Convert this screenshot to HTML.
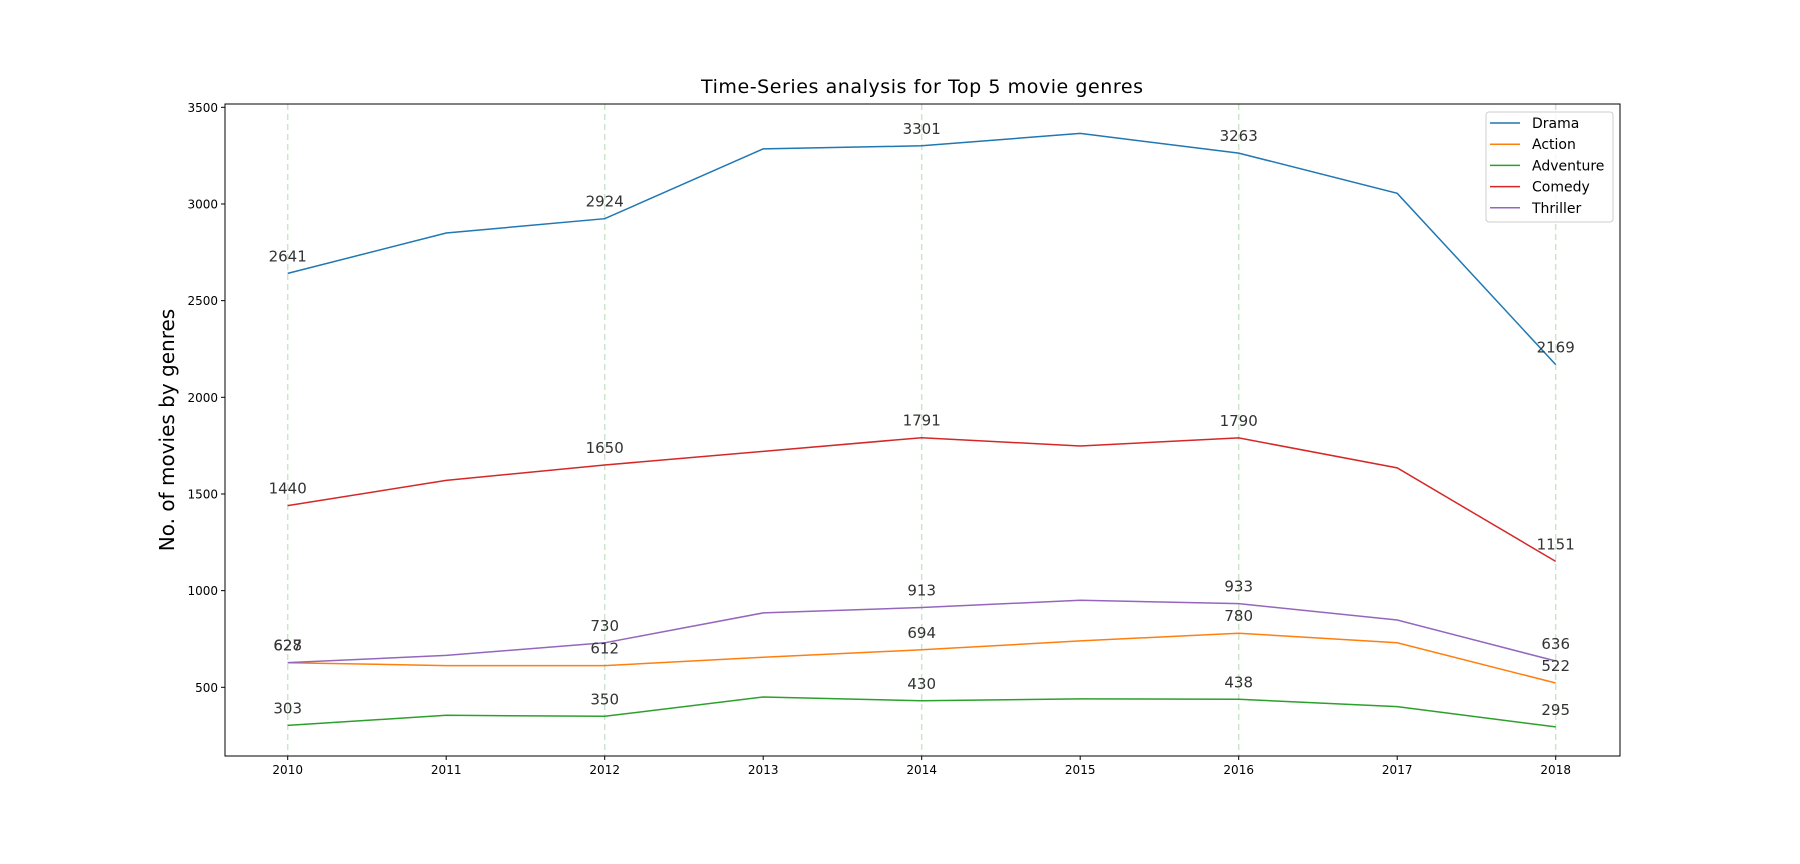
<!DOCTYPE html>
<html><head><meta charset="utf-8"><style>
body{margin:0;background:#fff;}
svg{display:block;font-family:"DejaVu Sans","Liberation Sans",sans-serif;}
</style></head><body>
<svg id="chart" width="1800" height="864" viewBox="0 0 1800 864" xmlns="http://www.w3.org/2000/svg">
<rect width="1800" height="864" fill="#fff"/>
<text x="922" y="93" text-anchor="middle" font-size="19" textLength="442" fill="#000">Time-Series analysis for Top 5 movie genres</text>
<text transform="translate(174,430) rotate(-90)" text-anchor="middle" font-size="20" fill="#000">No. of movies by genres</text>
<g id="grid"></g><g id="series"></g><g id="labels"></g><g id="axes"></g><g id="legend"></g>
</svg>
<script>
const years = [2010,2011,2012,2013,2014,2015,2016,2017,2018];
const genres = ["Drama","Action","Adventure","Comedy","Thriller"];
const colors = ["#1f77b4","#ff7f0e","#2ca02c","#d62728","#9467bd"];
const drama = [2641,2850,2924,3285,3301,3365,3263,3055,2169];
const action = [627,612,612,655,694,740,780,730,522];
const adventure = [303,355,350,450,430,440,438,400,295];
const comedy = [1440,1570,1650,1720,1791,1748,1790,1635,1151];
const thriller = [628,665,730,885,913,950,933,848,636];
const yTicks = [500,1000,1500,2000,2500,3000,3500];
const labelYears = [2010,2012,2014,2016,2018];

const series = [drama,action,adventure,comedy,thriller];
const NS = "http://www.w3.org/2000/svg";
const L=225,R=1620,T=104,B=756;
const xs = y => 287.7 + (y-2010)*158.5;
const ys = v => 687.3 - (v-500)*0.19333;
function mk(tag, attrs, parent, text){
  const e=document.createElementNS(NS,tag);
  for(const k in attrs) e.setAttribute(k,attrs[k]);
  if(text!==undefined) e.textContent=text;
  document.getElementById(parent).appendChild(e);
  return e;
}
labelYears.forEach(y=>{
  const g=mk("line",{x1:xs(y),x2:xs(y),y1:T,y2:B,stroke:"#2ca02c","stroke-opacity":"0.25","stroke-width":"1.5","stroke-dasharray":"6,4"},"grid");
  
  
});
series.forEach((s,i)=>{
  const pts=s.map((v,j)=>xs(years[j]).toFixed(1)+","+ys(v).toFixed(1)).join(" ");
  const p=mk("polyline",{points:pts,fill:"none",stroke:colors[i],"stroke-width":"1.5"},"series");
  
  
  s.forEach((v,j)=>{
    if(labelYears.indexOf(years[j])<0) return;
    const t=mk("text",{x:xs(years[j]),y:ys(v)-12,"text-anchor":"middle","font-size":"15",fill:"#333"},"labels",String(v));
    
    
  });
});
const frame=mk("rect",{x:L,y:T,width:R-L,height:B-T,fill:"none",stroke:"#000","stroke-width":"1"},"axes");


yTicks.forEach(v=>{
  mk("line",{x1:L-4,x2:L,y1:ys(v),y2:ys(v),stroke:"#000"},"axes");
  const t=mk("text",{x:L-7,y:ys(v)+4.5,"text-anchor":"end","font-size":"12",fill:"#000"},"axes",String(v));
  
  
});
years.forEach(y=>{
  mk("line",{x1:xs(y),x2:xs(y),y1:B,y2:B+4,stroke:"#000"},"axes");
  const t=mk("text",{x:xs(y),y:B+18,"text-anchor":"middle","font-size":"12",fill:"#000"},"axes",String(y));
  
  
});
const lb=mk("rect",{x:1486,y:112,width:127,height:110,rx:3,fill:"#fff","fill-opacity":"0.8",stroke:"#ccc"},"legend");


genres.forEach((g,i)=>{
  const y=123+i*21.2;
  mk("line",{x1:1490,x2:1520,y1:y,y2:y,stroke:colors[i],"stroke-width":"1.5"},"legend");
  const t=mk("text",{x:1532,y:y+5,"font-size":"14",fill:"#000"},"legend",g);
  
  
});
</script>
</body></html>
